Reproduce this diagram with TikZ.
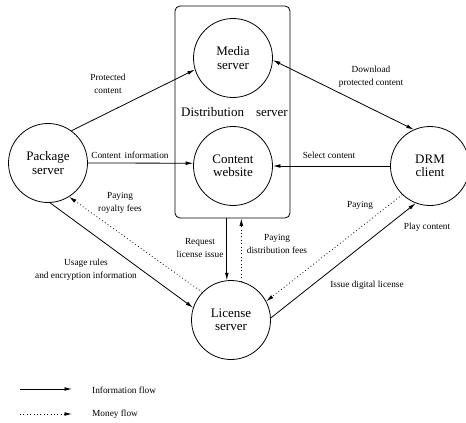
\documentclass[tikz,border=0pt]{standalone}
\usepackage{fontspec}
\setmainfont{Liberation Serif}
\usetikzlibrary{arrows.meta}
\begin{document}
\begin{tikzpicture}[x=1pt,y=-1pt,
  party/.style={circle,draw,line width=0.8pt,minimum size=79pt,inner sep=0pt,
    align=center,font=\fontsize{13}{13.5}\selectfont},
  lbl/.style={align=center,font=\fontsize{9.3}{12.5}\selectfont,inner sep=0pt},
  tip/.style={Latex[length=7.5pt,width=3.8pt]},
  info/.style={line width=0.8pt,-{Latex[length=7.5pt,width=3.8pt]}},
  money/.style={line width=0.8pt,dash pattern=on 0.8pt off 2.6pt,-{Latex[length=7.5pt,width=3.8pt]}},
  both/.style={line width=0.8pt,{Latex[length=7.5pt,width=3.8pt]}-{Latex[length=7.5pt,width=3.8pt]}}]
\useasboundingbox (0,0) rectangle (466,423);

% distribution server frame
\node[draw,line width=0.8pt,rounded corners=5pt,minimum width=115pt,minimum height=212pt,inner sep=0pt]
  (dist) at (232.5,112) {};
\node[font=\fontsize{13}{13.5}\selectfont,inner sep=0pt] (distlbl) at (234.5,112) {Distribution\hspace{12pt}server};

% parties
\node[party] (media) at (233,58) {Media\\server};
\node[party] (web) at (233,166) {Content\\website};
\node[party] (pkg) at (48,163) {Package\\server};
\node[party] (drm) at (430,166) {DRM\\client};
\node[party] (lic) at (231,320) {License\\server};

% information flows
\draw[info] (pkg.54) -- (media.197);
\draw[info] (pkg.east) -- (web.176);
\draw[both] (media.357) -- (drm.114);
\draw[info] (drm.west) -- (web.east);
\draw[info] (pkg.273) -- (lic.162);
\draw[info] (lic.96 |- dist.south) -- (lic.96);
\draw[info] (lic.3) -- (drm.249);

% money flows
\draw[money] (lic.136) -- (pkg.302);
\draw[money] (lic.75) -- (lic.75 |- dist.south);
\draw[money] (drm.226) -- (lic.28);

% flow labels
\node[lbl] (l1) at (108,84) {Protected\\content};
\node[lbl] (l2) at (130,155) {Content\, information};
\node[lbl] (l3) at (120,203) {Paying\\royalty fees};
\node[lbl] (l4) at (371,77) {Download\\protected content};
\node[lbl] (l5) at (329,155) {Select content};
\node[lbl] (l6) at (360,205) {Paying};
\node[lbl] (l7) at (427,227) {Play content};
\node[lbl] (l8) at (367,285) {Issue digital license};
\node[lbl] (l9) at (277,244) {Paying\\distribution fees};
\node[lbl] (l10) at (200,248) {Request\\license issue};
\node[lbl] (l11) at (86,270) {Usage rules\\and encryption information};

% key
\coordinate (k1a) at (20,389);
\coordinate (k1b) at (72,389);
\coordinate (k2a) at (20,414);
\coordinate (k2b) at (72,414);
\draw[info] (k1a) -- (k1b);
\draw[money] (k2a) -- (k2b);
\node[lbl,anchor=west] (kt1) at (92,390) {Information flow};
\node[lbl,anchor=west] (kt2) at (92,414) {Money flow};
\end{tikzpicture}
\end{document}
